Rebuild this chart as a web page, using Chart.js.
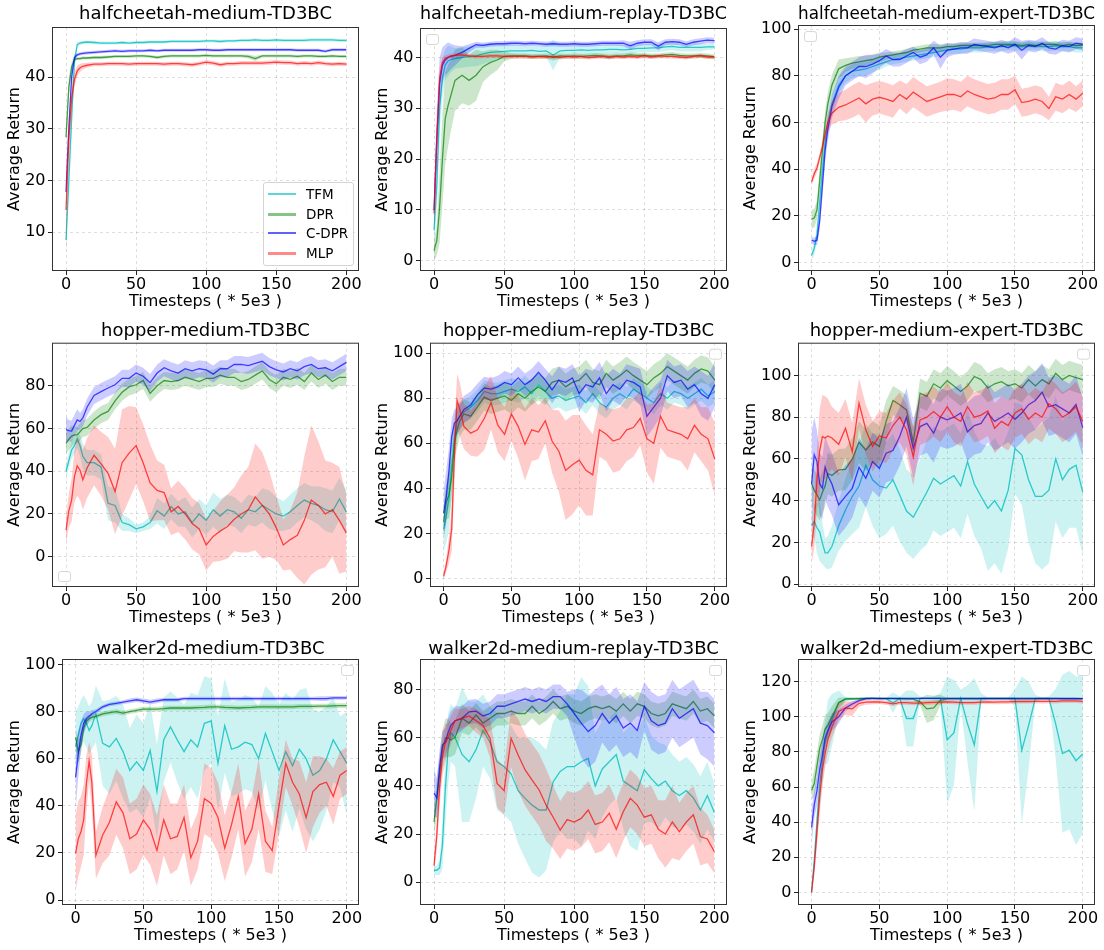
<!DOCTYPE html>
<html>
<head>
<meta charset="utf-8">
<script src="https://cdn.jsdelivr.net/npm/chart.js@4.4.1/dist/chart.umd.min.js"></script>
<style>
  body { margin: 0; background: #fff; font-family: "DejaVu Sans", sans-serif; }
  #page { position: relative; width: 1104px; height: 950px; overflow: hidden; }
  .cell { position: absolute; }
  #legend { position: absolute; border: 1px solid #d4d4d4; border-radius: 3px; background: rgba(255,255,255,0.85); }
  #legend .row { position: absolute; left: 0; height: 16px; }
  #legend .swatch { position: absolute; left: 4px; width: 28px; }
  #legend .name { position: absolute; left: 42px; font-size: 13.5px; line-height: 16px; color: #000; white-space: nowrap; }
</style>
</head>
<body>
<div id="page"></div>
<script>
// x positions (timesteps, * 5e3) shared by every curve
const steps = [0, 2, 4, 6, 8, 10, 12, 15, 20, 25, 30, 35, 40, 45, 50, 55, 60, 65, 70, 75, 80, 85, 90, 95, 100,
  105, 110, 115, 120, 125, 130, 135, 140, 145, 150, 155, 160, 165, 170, 175, 180, 185, 190, 195, 200];
const xTicks = [0, 50, 100, 150, 200];
const algos = ['TFM', 'DPR', 'C-DPR', 'MLP'];

// halfcheetah-medium
const hcM_TFM = [8.5,20,32,43,46.3,46.6,46.7, 46.8,46.7,46.6,46.6,46.6,46.7,46.6,46.7, 46.7,46.8,46.8,46.8,46.9,46.9,46.9,46.9,46.9,47.0, 47.0,46.9,47.0,47.0,47.1,47.1,47.2,47.1,47.1,47.2, 47.1,47.1,47.1,47.1,47.2,47.2,47.2,47.2,47.1,47.1];
const hcM_TFM_sd = [3,3,2.5,1.2,0.5,0.4,0.3, 0.3,0.3,0.3,0.3,0.3,0.3,0.3,0.3, 0.3,0.3,0.3,0.3,0.3,0.3,0.3,0.3,0.3,0.3, 0.3,0.3,0.3,0.3,0.3,0.3,0.3,0.3,0.3,0.3, 0.3,0.3,0.3,0.3,0.3,0.3,0.3,0.3,0.3,0.3];
const hcM_DPR = [28.4,38,42,43.4,43.6,43.6,43.7, 43.7,43.8,43.8,43.9,44.0,44.0,44.0,44.1, 44.1,44.0,43.8,44.0,44.1,44.1,44.1,44.1,44.1,44.2, 44.1,44.1,44.1,44.1,44.1,44.0,43.6,44.1,44.1,44.1, 44.1,44.1,44.0,44.1,44.1,44.0,44.0,44.1,44.0,44.0];
const hcM_DPR_sd = [1.5,2,1,0.5,0.3,0.3,0.3, 0.3,0.3,0.3,0.3,0.3,0.3,0.3,0.3, 0.3,0.3,0.3,0.3,0.3,0.3,0.3,0.3,0.3,0.3, 0.3,0.3,0.3,0.3,0.3,0.4,0.5,0.3,0.3,0.3, 0.3,0.3,0.3,0.3,0.3,0.3,0.3,0.3,0.3,0.3];
const hcM_CDPR = [17.8,30,40,43.8,44.3,44.5,44.6, 44.7,44.8,44.9,45.0,45.1,45.0,45.1,45.1, 45.1,45.2,45.1,45.2,45.2,45.2,45.2,45.2,45.3,45.3, 45.2,45.2,45.3,45.3,45.3,45.3,45.3,45.3,45.3,45.3, 45.3,45.3,45.2,45.2,45.2,45.2,45.0,45.3,45.3,45.3];
const hcM_CDPR_sd = [1,2,1.5,0.6,0.3,0.3,0.3, 0.3,0.3,0.3,0.3,0.3,0.3,0.3,0.3, 0.3,0.3,0.3,0.3,0.3,0.3,0.3,0.3,0.3,0.3, 0.3,0.3,0.3,0.3,0.3,0.3,0.3,0.3,0.3,0.3, 0.3,0.3,0.3,0.3,0.3,0.3,0.3,0.3,0.3,0.3];
const hcM_MLP = [14.3,28,36,39.5,41.2,41.8,42.1, 42.3,42.5,42.5,42.6,42.6,42.6,42.5,42.6, 42.6,42.6,42.6,42.5,42.6,42.6,42.5,42.4,42.6,42.9, 42.7,42.4,42.6,42.6,42.7,42.7,42.7,42.7,42.8,42.9, 42.8,42.8,42.6,42.7,42.6,42.8,42.6,42.5,42.6,42.5];
const hcM_MLP_sd = [8,4,2.5,1.5,1,0.8,0.6, 0.5,0.4,0.4,0.4,0.4,0.4,0.4,0.4, 0.4,0.4,0.4,0.4,0.4,0.4,0.4,0.4,0.4,0.4, 0.4,0.4,0.4,0.4,0.4,0.4,0.4,0.4,0.4,0.4, 0.4,0.4,0.4,0.4,0.4,0.4,0.4,0.4,0.4,0.4];

// halfcheetah-medium-replay
const hcMR_TFM = [6,15,30,36,38.5,39.3,39.6, 39.8,40,40.2,40.3,40.7,41,41.1,41.2, 41.3,41.3,41.3,41.4,41.2,41.3,40.5,41.3,41.4,41.4, 41.5,41.4,41.5,41.5,41.6,41.6,41.5,41.6,41.8,41.8, 41.9,41.9,42.1,42.2,42.0,42.0,42.0,42.0,42.1,42.1];
const hcMR_TFM_sd = [3,5,5,4,3,3,2.5, 2,2,2,2,2,1.8,1.5,1.5, 1.3,1.2,1,1,1,1.2,3,1.2,1,1, 1,1,1,1,1,1,1,1,0.8,0.8, 0.8,0.8,0.8,0.8,0.8,0.8,0.8,0.8,0.6,0.6];
const hcMR_DPR = [2,4,10.5,20,28,30.5,32.5, 35.5,36.5,35.5,36.5,38.2,39,39.5,40.2, 40.3,40.3,40.3,40.2,40.2,40.3,40.0,40.3,40.2,40.3, 40.2,40.3,40.4,40.3,40.2,40.3,40.3,40.5,40.4,40.4, 40.3,40.3,40.5,40.6,40.4,40.3,40.3,40.4,40.3,40.1];
const hcMR_DPR_sd = [2,3,7,9,9,8,7, 6,5.5,5,5,3,2.5,2,1, 0.6,0.5,0.5,0.5,0.5,0.5,0.6,0.5,0.5,0.5, 0.5,0.5,0.5,0.5,0.5,0.5,0.5,0.5,0.5,0.5, 0.5,0.5,0.5,0.5,0.5,0.5,0.5,0.5,0.5,0.5];
const hcMR_CDPR = [10,24,35,38.5,39.5,40,40.2, 40.4,41,41.8,42.5,42.4,42.6,42.7,42.7, 42.8,42.8,42.7,42.8,42.7,42.6,42.7,42.6,42.6,42.7, 42.6,42.6,42.7,42.8,42.8,42.8,42.8,42.3,42.8,43.0, 43.0,42.2,43.0,43.1,43.0,42.6,43.0,43.2,43.4,43.3];
const hcMR_CDPR_sd = [4,6,5,3.5,3,3,2.5, 2,1.2,0.8,0.6,0.5,0.5,0.5,0.5, 0.5,0.5,0.5,0.5,0.5,0.5,0.5,0.5,0.5,0.5, 0.5,0.5,0.5,0.5,0.5,0.5,0.6,0.8,0.6,0.6, 0.6,0.8,0.6,0.6,0.6,0.6,0.6,0.6,0.6,0.6];
const hcMR_MLP = [9.3,24,36,39,39.8,40.1,40.3, 40.4,40.5,40.3,40.2,40.2,40.3,40.3,40.2, 40.2,40.2,40.2,40.1,40.2,40.1,40.2,40.0,40.2,40.1, 40.2,40.0,40.1,40.2,40.0,40.2,40.1,40.2,40.1,40.3, 40.1,40.3,40.2,40.2,40.1,40.0,40.2,40.3,40.1,40.1];
const hcMR_MLP_sd = [3,3,2,1,0.6,0.5,0.5, 0.4,0.4,0.4,0.4,0.4,0.4,0.4,0.4, 0.4,0.4,0.4,0.4,0.4,0.4,0.4,0.4,0.4,0.4, 0.4,0.4,0.4,0.4,0.4,0.4,0.4,0.4,0.4,0.4, 0.4,0.4,0.4,0.4,0.4,0.4,0.4,0.4,0.4,0.4];

// halfcheetah-medium-expert
const hcME_TFM = [3,6,12,26,40,52,60, 68,76,80,82,82.5,83,84,85, 86,87,87.5,88,88.5,89,89.5,90,90.5,91, 91.5,91.5,92,92,92,92.5,92.5,92.5,93,93, 92.5,93,93,92.5,92.5,93,92.5,92.5,92,92];
const hcME_TFM_sd = [2,3,3,4,4,4,4, 4,3.5,3,3,3,3,2.5,2.5, 2,2,2,2,2,2,2,2,2,2, 2,2,2,2,2,2,2,2,2,2, 2,2,2,2,2,2,2,2,2,2];
const hcME_DPR = [18.5,19,22.5,35,48,60,68, 76,83,84.5,85.5,86,86.5,87,88, 88.5,89,89.5,90,91,91.5,92,92,92,92.5, 92.5,93,93,93,93,93,93.5,93.5,93.5,93.5, 93,93.5,93,93.5,93.5,93.5,93,93.5,93,93.2];
const hcME_DPR_sd = [4,4,4,5,5,5,5, 4.5,4,3,2.5,2.5,2,2,2, 1.5,1.5,1.5,1.5,1.5,1.5,1.5,1.5,1.5,1.5, 1.2,1.2,1.2,1.2,1.2,1.2,1.2,1.2,1.2,1.2, 1.2,1.2,1.2,1.2,1.2,1.2,1.2,1.2,1.2,1.2];
const hcME_CDPR = [9.6,9,9.5,18,33,48,57, 66.8,75,80,82,84,84,85,86.5, 88.5,87,87,88.5,90,88,89,92,88,91, 91.5,92,92,93.5,93,92.5,92,93,92,93.5, 91,93,92.5,94,92,91.5,93,92.5,94,93.5];
const hcME_CDPR_sd = [1.5,1.5,2,4,5,5,5, 5,5,4,4,4,5,4,3, 3,3,3,3,2.5,3,3,3,5,3, 2.5,2.5,2.5,2.5,2.5,2.5,2.5,2.5,2.5,3, 4,2.5,2.5,2.5,2.5,2.5,2.5,2.5,2.5,2.5];
const hcME_MLP = [34.6,38,40.5,45,49.5,55,60, 64,66.5,67.5,69,70.5,68,70,70.8, 70,69,72,70,73,71,69,70,71,72, 72,71,73.5,72,71,70,70.5,72,72,74, 68.5,69,70,69,66,71,70,72,70,72.5];
const hcME_MLP_sd = [1.5,2,2,2,2.5,3,4, 5,6,6.5,7,7,8,7,7, 7,7,6,6.5,6.5,6.5,6.5,6.5,6.5,7, 6.5,6.5,6.5,6.5,6.5,6.5,6.5,6.5,6.5,6, 6,6,6,6,5,6,6,6,5.5,5.5];

// hopper-medium
const hM_TFM = [40,45,50,52,55,52,47, 44,44,42,25,24,16,15,13, 14,16,21.5,19,23.5,20,21,16,20,17, 22,19,22,21,18,22,21,24,22,20, 19,21,24,26.5,25,24,22,21,27,21];
const hM_TFM_sd = [3,4,4,4,4,5,6, 6,6,6,8,8,4,3,2, 2,3,6,6,6,6,7,7,7,7, 8,8,7,7,7,7,7,8,9,8, 7,8,8,8,8,9,10,10,10,10];
const hM_DPR = [53,55,56.5,57,57,58.5,60, 60.5,64,66.5,68,73,77,79.5,80.5, 82.5,76.5,80,82.5,82,82.5,84,83,82,83.5, 83.5,85,84,84,82,83,85,87,83,81, 84,83,84.5,82,86,83,85,82,84,84];
const hM_DPR_sd = [5,5,5,4,4,4,4, 4,4,4,4,4,4,4,4, 4,4,4,4,4,4,4,4,4,4, 4,4,4,4,4,4,4,4,4,4, 4,4,4,4,4,4,4,4,4,4];
const hM_CDPR = [59.5,59,58.8,61.5,64,63.3,65, 70,75.5,77.3,79,80.5,83.5,83.5,86, 84.5,81.5,86,88.5,87,86,88,87,88,87.5, 85.5,88,88,90,90,89.5,90.5,91.5,89,87.5, 86.5,88,87,89,90,88,88.5,87,89,91];
const hM_CDPR_sd = [6,5,5,5,5,4,4, 4,4,4,4,4,4,4,4, 4,4,4,4,4,4,4,4,4,4, 4,4,4,4,4,4,4,4,4,4, 4,4,4,4,4,4,4,4,4,4];
const hM_MLP = [12.5,21.5,26.5,37.5,42.5,40.5,36, 41.5,47.5,43.5,39,30.5,44,48.5,52, 44,34.5,31,30,21,23.5,20,15.5,13,5.5, 9.5,12,14,17.5,20,22,28,24,20,13.5, 5.5,8,10,17,26.5,24,20,22,17,11];
const hM_MLP_sd = [6,8,10,12,14,14,14, 14,14,15,17,20,25,22,18, 18,18,14,13,11,12,12,12,12,12, 12,14,15,15,18,20,25,25,20,15, 12,14,20,30,35,30,25,22,25,18];

// hopper-medium-replay
const hMR_TFM = [22,28,35,50,62,70,72, 74,76,79,83,82,82,83,84, 83,85,82,86,83,80,81,79,80,81, 78,82,78,76,80,82,80,84,82,80, 78,82,80,83,82,80,82,84,81,83];
const hMR_TFM_sd = [10,12,14,14,10,8,6, 5,5,5,5,5,5,5,5, 5,5,5,5,5,5,5,5,5,5, 5,5,5,5,5,5,5,5,5,5, 5,5,5,5,5,5,5,5,5,5];
const hMR_DPR = [25,34,37,45,60,66,70, 73,72,76,80.5,79,80,81,79, 82,80,83,85,83,87,88,85,87,88, 91,87,86,91,88,90,92.5,90,88,86, 89,91,94,92,90,88,91,93,92,88];
const hMR_DPR_sd = [8,8,10,10,8,8,7, 7,6,6,6,6,6,6,6, 6,6,6,6,6,6,6,6,6,6, 6,6,6,6,6,6,6,6,6,6, 6,6,6,6,6,6,6,6,6,6];
const hMR_CDPR = [29,36.4,48,63,69,70,72, 75,77,81.5,84.5,84,85,87,86, 89,86,88,91.5,88,83.7,88,87,89,82, 86,85,89,82,86,84,88,87,85,72, 76,80,90,87,88,84,86,82,80,86];
const hMR_CDPR_sd = [10,12,10,8,6,6,6, 6,6,5,5,5,5,5,5, 5,5,5,5,5,6,6,6,6,8, 7,7,7,8,7,7,7,7,8,9, 9,8,7,7,7,8,8,10,10,10];
const hMR_MLP = [1,6,12.7,22,55,79,75, 67.5,64.5,66,71,78,68,64,73, 67.5,59.5,66,65,70,61,56.5,48,50.5,52.5, 48,46,66,64,61,62,66,67,71,62, 60,72,66,65,64,62,68,64,62,53];
const hMR_MLP_sd = [1,3,6,10,12,12,12, 10,10,12,14,12,12,12,12, 14,16,14,12,10,14,18,22,22,20, 20,18,12,12,14,14,14,13,12,15, 18,14,12,12,12,14,12,12,14,16];

// hopper-medium-expert
const hME_TFM = [28,30,27,25,19.5,15,15, 18,28,35.5,42,47,57,50,47, 46,50,42.7,35,32,38,44,50.7,48,50, 52,47,58.7,48,42,36.3,40,35,45,65, 62,50,42,42,45,60,50,55,57,44];
const hME_TFM_sd = [5,8,12,14,10,7,8, 10,12,15,18,20,20,22,25, 22,22,22,20,20,22,25,25,25,25, 25,25,25,25,25,30,30,30,28,22, 24,30,32,35,35,30,28,28,30,30];
const hME_DPR = [48,45,42.7,40.3,44,47,53, 52,54.7,55,60,68,64.3,68,66, 78,88,86,83.5,68,91.5,90,96,94,97.5, 95,92.3,95,99.5,98,94,96,97,95,96, 94,98,95,98,96,101,98,100,99,98];
const hME_DPR_sd = [10,10,10,10,10,10,10, 10,10,10,10,10,10,10,10, 10,7,7,7,7,7,7,7,7,7, 7,7,7,7,7,7,7,7,7,7, 7,7,7,7,7,7,7,7,7,7];
const hME_CDPR = [48,62,58.7,48,46,56,52, 48,38,42,45.9,56,50.7,58.7,55.5, 62.7,64,70.7,80,65,75.5,77,72.3,80,78.7, 80,82,73,76,77,82,78,80,82,79, 82,86,88,92,85,86,84,82,86,75];
const hME_CDPR_sd = [25,18,15,15,15,15,15, 15,15,15,14,14,14,14,14, 14,14,14,14,14,14,14,14,14,14, 14,14,14,14,14,14,14,14,14,14, 14,14,14,14,14,14,14,14,14,14];
const hME_MLP = [18,29,50,64,70.7,70,71, 70,67,74.7,63.5,86.7,74,66,71, 70,76,80,74,61,78.7,80,82.7,80,85, 80,78,85,80,81,83,74.7,78,76,82, 84,79,82,80,86.4,84,80,82,85,78];
const hME_MLP_sd = [8,12,15,20,20,20,18, 15,15,14,14,12,12,12,12, 12,12,12,12,14,12,12,12,12,12, 12,12,12,12,12,12,12,12,12,12, 12,12,12,12,12,12,12,12,12,12];

// walker2d-medium
const wM_TFM = [65,70,75,77,75,72,74, 79,66.5,65,68.6,63,55,58.7,55, 63.5,46,68,73.5,68,63,68,65,75,76, 58,74,64,65,67,66,60,70.7,63,55, 63,57,64,60,53,55,60,68,63,58];
const wM_TFM_sd = [15,12,10,10,10,10,10, 12,18,20,18,20,18,20,20, 20,20,18,15,18,20,20,22,20,18, 20,20,20,20,20,20,22,20,25,28, 25,28,25,30,28,25,22,18,15,22];
const wM_DPR = [69,63,66,73,76,77,77.5, 78,79,79.5,80,79.3,80,80.5,81, 81,81,81.2,81.5,81.5,81.5,81.5,81.7,81.8,82, 82,81.8,81.7,81.5,81.7,81.8,82,82,82,82, 82,82,82.2,82.2,82.2,82.3,82.3,82.4,82.5,82.5];
const wM_DPR_sd = [4,5,4,3,2,1.5,1.2, 1,1,1,1,1,1,1,1, 1,1,1,1,1,1,1,1,1,1, 1,1,1,1,1,1,1,1,1,1, 1,1,1,1,1,1,1,1,1,1];
const wM_CDPR = [52,62,70,75,77,78,79, 80,82,83,83.5,84,84.5,85,84.5, 84,84.5,85,85,85,85.5,85.5,85.5,85.5,85.5, 85.5,85.5,85.5,85.5,85.5,85.5,85.5,85.5,85.5,85.5, 85.5,85.5,85.5,85.5,85.5,85.5,85.5,85.8,85.8,85.8];
const wM_CDPR_sd = [14,10,6,4,3,2,1.5, 1,0.8,0.8,0.8,0.8,1,1,1, 1,1,0.8,0.8,0.8,0.8,0.8,0.8,0.8,0.8, 0.8,0.8,0.8,0.8,0.8,0.8,0.8,0.8,0.8,0.8, 0.8,0.8,0.8,0.8,0.8,1,1,0.8,0.8,0.8];
const wM_MLP = [19.8,26,29,34,49.5,59,50, 19,27.6,33,41.7,37,26,28,34, 30,21,34,26,27,35,18,25,43,41, 35,22,32,44,24,30,45,25,21,40, 58,50,45,35,46,49,50,44,53,55];
const wM_MLP_sd = [16,16,15,15,12,8,12, 10,12,14,14,15,15,15,15, 15,15,15,15,14,14,12,12,15,15, 15,14,14,14,14,14,15,13,10,12, 10,10,14,15,15,12,10,12,10,10];

// walker2d-medium-replay
const wMR_TFM = [5,5,6,15.5,38,55,62, 60,53,50,55,63,58,50,48, 45,38,34.8,32,30,30,41.7,46,48,48, 50,51.4,40,47,50,53,42,40,38,46.6, 43,40,42,38,36,38,35,30,36,29];
const wMR_TFM_sd = [2,2,3,10,15,15,12, 12,28,25,20,15,15,20,20, 20,22,25,28,28,25,25,25,30,30, 35,30,22,20,18,18,20,25,25,22, 18,18,15,15,14,14,14,14,14,12];
const wMR_DPR = [25,35,45,55,59.7,60,59, 60,68,66,69.4,66,68,70,70, 71,70,70,73,70,72,75,72,73,71, 70,72,73,72,73,71,74,71,74,73, 70,69,70,74,73,72,75,71,72,69];
const wMR_DPR_sd = [6,8,8,8,8,8,7, 7,6,5,5,5,5,5,5, 5,5,5,5,5,5,5,5,5,5, 5,5,5,5,5,5,5,5,5,5, 5,5,5,5,5,5,5,5,5,5];
const wMR_CDPR = [37,35,48,57,58,62,65, 67,68,70.7,71,69,70,73,73, 74,75,76,75,76,75,77,77,74,70, 66,62.5,65,70,66,69,64,66,63,73, 67,65,66,72,68,70,72,66,65,62];
const wMR_CDPR_sd = [10,8,7,6,6,6,6, 6,5,5,5,5,5,5,5, 5,5,5,5,5,5,5,5,5,10, 14,15,15,12,12,12,12,12,12,10, 12,12,12,12,12,12,12,13,14,14];
const wMR_MLP = [7,19.6,39.7,52,57.6,60,63, 67,68,69,67,65,59.7,41,38, 59.7,52.8,46.6,42.4,38.3,32,27,21.7,26,25, 26.5,30,24,25,28.6,22,29.3,34.8,32,27, 28,22,20,25,21,25,28,19,18,12.7];
const wMR_MLP_sd = [3,6,8,8,8,6,6, 5,4,4,5,5,8,10,10, 12,15,15,15,15,15,13,12,12,12, 12,12,12,12,12,12,12,12,12,12, 12,12,14,15,12,12,12,12,10,9];

// walker2d-medium-expert
const wME_TFM = [0,18.4,40.3,60.2,74.4,84.9,91.5, 98,108,110.3,110.3,110.4,110.5,110.5,110.5, 110.3,108,110.5,99,99,110.5,110.5,110.5,110.5,86.8, 91,110.5,96,84,110.5,110.5,110.5,110.5,110.5,110.5, 81,95,110.5,110.5,110.5,96,79,81,75,78.8];
const wME_TFM_sd = [1,5,10,12,12,12,18, 15,7,1,0.8,0.6,0.5,0.5,0.5, 0.5,6,1,16,16,1,0.5,1,3,36, 30,5,22,38,3,0.5,0.5,0.5,0.5,5, 42,25,2,0.5,1,20,45,45,48,45];
const wME_DPR = [58,62,72,82,87,93,95, 100,108,110,110.2,110.3,110.5,110.4,110.2, 110.3,110.3,110.2,110,110,108.5,104.5,105,109.5,110.2, 110.2,110.2,110.2,110.2,110.2,110.2,110.2,110.2,110.2,110.2, 110.2,110.2,110.2,110.2,110.2,110.3,110.3,110.3,110.3,110.3];
const wME_DPR_sd = [5,8,8,8,8,8,7, 6,3,1,0.6,0.6,0.6,0.6,0.6, 0.6,0.6,0.6,0.6,0.6,2,8,7,3,0.6, 0.6,0.6,0.6,0.6,0.6,0.6,0.6,0.6,0.6,0.6, 0.6,0.6,0.6,0.6,0.6,0.6,0.6,0.6,0.6,0.6];
const wME_CDPR = [37,50,58,70,78,88,92, 97,100,105,107.3,109.2,110.3,110.5,110.5, 110.5,110.5,110.5,110.5,110.5,110.5,110.5,110.5,110.5,110.5, 110.5,110.5,110.5,110.5,110.5,110.5,110.5,110.5,110.5,110.5, 110.5,110.5,110.5,110.5,110.5,110.5,110.4,110.4,110.4,110.3];
const wME_CDPR_sd = [10,8,8,8,8,6,5, 5,4,2,1.5,1,0.6,0.5,0.5, 0.5,0.5,0.5,0.5,0.5,0.5,0.5,0.5,0.5,0.5, 0.5,0.5,0.5,0.5,0.5,0.5,0.5,0.5,0.5,0.5, 0.5,0.5,0.5,0.5,0.5,0.5,0.5,0.5,0.5,0.5];
const wME_MLP = [0,14.6,34.6,54.5,69.7,79.2,86.8, 94,103,105,104.5,107.7,108.3,108.4,108.5, 108,107.3,108,108,107.8,107.8,108,108.2,108.3,108.5, 108.3,108,108,108,108.3,108.5,108.3,108.5,108.5,108.7, 108.7,108.7,108.8,108.8,108.8,108.8,109,109,109,108.8];
const wME_MLP_sd = [1,5,8,10,10,8,7, 6,5,4,4,2,1.5,1.2,1.2, 1.2,1.2,1.2,1.2,1.2,1.2,1.2,1.2,1.2,1.2, 1.2,1.2,1.2,1.2,1.2,1.2,1.2,1.2,1.2,1.2, 1.2,1.2,1.2,1.2,1.2,1.2,1.2,1.2,1.2,1.2];

// y tick labels per panel
const ticks40 = [10, 20, 30, 40];
const ticks0to40 = [0, 10, 20, 30, 40];
const ticks0to80 = [0, 20, 40, 60, 80];
const ticks0to100 = [0, 20, 40, 60, 80, 100];
const ticks0to120 = [0, 20, 40, 60, 80, 100, 120];

// styles
const lineColors = ['rgba(0,191,191,0.8)', 'rgba(0,128,0,0.7)', 'rgba(0,0,255,0.7)', 'rgba(255,0,0,0.7)'];
const bandColors = ['rgba(0,191,191,0.2)', 'rgba(0,128,0,0.2)', 'rgba(0,0,255,0.2)', 'rgba(255,0,0,0.2)'];
const legendColors = ['#5fd6d6', '#86c386', '#6060ff', '#ff8a8a'];
const legendWidths = [2, 3, 2, 3];

const panels = [
  { title: 'halfcheetah-medium-TD3BC', series: [hcM_TFM, hcM_DPR, hcM_CDPR, hcM_MLP], spread: [hcM_TFM_sd, hcM_DPR_sd, hcM_CDPR_sd, hcM_MLP_sd], yMin: 2.5, yMax: 49.7, yTicks: ticks40, emptyLegend: null },
  { title: 'halfcheetah-medium-replay-TD3BC', series: [hcMR_TFM, hcMR_DPR, hcMR_CDPR, hcMR_MLP], spread: [hcMR_TFM_sd, hcMR_DPR_sd, hcMR_CDPR_sd, hcMR_MLP_sd], yMin: -2.0, yMax: 45.8, yTicks: ticks0to40, emptyLegend: 'tl' },
  { title: 'halfcheetah-medium-expert-TD3BC', series: [hcME_TFM, hcME_DPR, hcME_CDPR, hcME_MLP], spread: [hcME_TFM_sd, hcME_DPR_sd, hcME_CDPR_sd, hcME_MLP_sd], yMin: -3.7, yMax: 101.8, yTicks: ticks0to100, emptyLegend: 'tl' },
  { title: 'hopper-medium-TD3BC', series: [hM_TFM, hM_DPR, hM_CDPR, hM_MLP], spread: [hM_TFM_sd, hM_DPR_sd, hM_CDPR_sd, hM_MLP_sd], yMin: -14.2, yMax: 100.2, yTicks: ticks0to80, emptyLegend: 'bl' },
  { title: 'hopper-medium-replay-TD3BC', series: [hMR_TFM, hMR_DPR, hMR_CDPR, hMR_MLP], spread: [hMR_TFM_sd, hMR_DPR_sd, hMR_CDPR_sd, hMR_MLP_sd], yMin: -3.7, yMax: 104.6, yTicks: ticks0to100, emptyLegend: 'tr' },
  { title: 'hopper-medium-expert-TD3BC', series: [hME_TFM, hME_DPR, hME_CDPR, hME_MLP], spread: [hME_TFM_sd, hME_DPR_sd, hME_CDPR_sd, hME_MLP_sd], yMin: -1.4, yMax: 115.7, yTicks: ticks0to100, emptyLegend: 'tr' },
  { title: 'walker2d-medium-TD3BC', series: [wM_TFM, wM_DPR, wM_CDPR, wM_MLP], spread: [wM_TFM_sd, wM_DPR_sd, wM_CDPR_sd, wM_MLP_sd], yMin: -2.1, yMax: 102.3, yTicks: ticks0to100, emptyLegend: 'tr' },
  { title: 'walker2d-medium-replay-TD3BC', series: [wMR_TFM, wMR_DPR, wMR_CDPR, wMR_MLP], spread: [wMR_TFM_sd, wMR_DPR_sd, wMR_CDPR_sd, wMR_MLP_sd], yMin: -9.4, yMax: 92.6, yTicks: ticks0to80, emptyLegend: 'tr' },
  { title: 'walker2d-medium-expert-TD3BC', series: [wME_TFM, wME_DPR, wME_CDPR, wME_MLP], spread: [wME_TFM_sd, wME_DPR_sd, wME_CDPR_sd, wME_MLP_sd], yMin: -7.2, yMax: 132.9, yTicks: ticks0to120, emptyLegend: 'tr' },
];

// plot-box geometry in page pixels: left, top, right, bottom, y-label centre, title gap
const boxes = [
  [52, 27, 359, 271, 15, 1.4], [420, 28, 727, 271, 383, 2.4], [798, 25, 1095, 271, 750.5, -0.6],
  [52, 343, 359, 587, 15, 0.1], [430, 343, 727, 587, 383, 0.1], [798, 343, 1095, 587, 750.5, 0.1],
  [62, 659, 359, 905, 15, -1.6], [420, 659, 727, 905, 383, -1.6], [798, 659, 1095, 905, 750.5, -1.6],
];

const FONT = '"DejaVu Sans", sans-serif';
Chart.defaults.font.family = FONT;
Chart.defaults.color = '#000';

// frame around the plot box + matplotlib's empty legend boxes
const framePlugin = {
  id: 'frame',
  afterDraw(chart, args, opts) {
    const { ctx, chartArea: a } = chart;
    ctx.save();
    if (opts.empty) {
      const w = 12, h = 10, m = 6;
      const x = opts.empty[1] === 'l' ? a.left + m : a.right - m - w;
      const y = opts.empty[0] === 't' ? a.top + m : a.bottom - m - h;
      ctx.beginPath();
      ctx.roundRect(x + 0.5, y + 0.5, w, h, 2.5);
      ctx.fillStyle = 'rgba(255,255,255,0.8)';
      ctx.fill();
      ctx.strokeStyle = '#d8d8d8';
      ctx.lineWidth = 1;
      ctx.stroke();
    }
    ctx.strokeStyle = '#333';
    ctx.lineWidth = 1;
    ctx.strokeRect(a.left + 0.5, a.top + 0.5, a.right - a.left - 1, a.bottom - a.top - 1);
    ctx.restore();
  }
};

const page = document.getElementById('page');

panels.forEach((p, k) => {
  const [bl, bt, br, bb, labelX, gap] = boxes[k];
  const left = Math.round(labelX - 9.6);
  const top = Math.round(bt - 21.6 - gap);
  const width = br + 6 - left;
  const height = Math.round(bb + 39.5) - top;
  const yw = bl - left;
  const xh = height - (bb - top);

  const cell = document.createElement('div');
  cell.className = 'cell';
  Object.assign(cell.style, { left: left + 'px', top: top + 'px', width: width + 'px', height: height + 'px' });
  const canvas = document.createElement('canvas');
  cell.appendChild(canvas);
  page.appendChild(cell);

  const datasets = [];
  p.series.forEach((mean, s) => {
    const sd = p.spread[s];
    const lower = steps.map((x, i) => ({ x, y: mean[i] - sd[i] }));
    const upper = steps.map((x, i) => ({ x, y: mean[i] + sd[i] }));
    const line = steps.map((x, i) => ({ x, y: mean[i] }));
    datasets.push({ label: algos[s] + ' lo', data: lower, borderWidth: 0, pointRadius: 0, fill: false });
    datasets.push({ label: algos[s] + ' hi', data: upper, borderWidth: 0, pointRadius: 0, fill: '-1', backgroundColor: bandColors[s] });
    datasets.push({ label: algos[s], data: line, borderColor: lineColors[s], borderWidth: 1.3, pointRadius: 0, fill: false });
  });
  // first pushed is drawn first (underneath)
  datasets.forEach((d, i) => { d.order = datasets.length - i; d.tension = 0; });

  new Chart(canvas, {
    type: 'line',
    data: { datasets },
    plugins: [framePlugin],
    options: {
      responsive: true,
      maintainAspectRatio: false,
      animation: false,
      events: [],
      layout: { padding: { left: 0, top: 0, right: 6, bottom: 0 } },
      plugins: {
        legend: { display: false },
        tooltip: { enabled: false },
        frame: { empty: p.emptyLegend },
        title: {
          display: true, text: p.title, fullSize: false, color: '#000',
          font: { size: 18, weight: 'normal', family: FONT },
          padding: { top: 0, bottom: gap }
        }
      },
      scales: {
        x: {
          type: 'linear', min: -10, max: 209,
          afterBuildTicks: s => { s.ticks = xTicks.map(v => ({ value: v })); },
          afterFit: s => { s.height = xh; },
          ticks: { font: { size: 16 }, color: '#000', padding: 0, maxRotation: 0, autoSkip: false },
          grid: { color: 'rgba(0,0,0,0.13)', tickColor: '#222', tickLength: 4, tickBorderDash: [] },
          border: { display: false, dash: [3, 3] },
          title: { display: true, text: 'Timesteps ( * 5e3 )', font: { size: 16 }, color: '#000', padding: 0 }
        },
        y: {
          type: 'linear', min: p.yMin, max: p.yMax,
          afterBuildTicks: s => { s.ticks = p.yTicks.map(v => ({ value: v })); },
          afterFit: s => { s.width = yw; },
          ticks: { font: { size: 16 }, color: '#000', padding: 2.5 },
          grid: { color: 'rgba(0,0,0,0.13)', tickColor: '#222', tickLength: 4, tickBorderDash: [] },
          border: { display: false, dash: [3, 3] },
          title: { display: true, text: 'Average Return', font: { size: 16 }, color: '#000', padding: 0 }
        }
      }
    }
  });
});

// legend of the first panel, placed like matplotlib's lower-right legend
const legend = document.createElement('div');
legend.id = 'legend';
Object.assign(legend.style, { left: '263px', top: '182px', width: '89px', height: '82px' });
algos.forEach((name, s) => {
  const row = document.createElement('div');
  row.className = 'row';
  row.style.top = Math.round(3 + s * 19.7) + 'px';
  const sw = document.createElement('div');
  sw.className = 'swatch';
  Object.assign(sw.style, { top: Math.round(8 - legendWidths[s] / 2) + 'px', height: legendWidths[s] + 'px', background: legendColors[s] });
  const label = document.createElement('div');
  label.className = 'name';
  label.textContent = name;
  row.appendChild(sw);
  row.appendChild(label);
  legend.appendChild(row);
});
page.appendChild(legend);
</script>
</body>
</html>
